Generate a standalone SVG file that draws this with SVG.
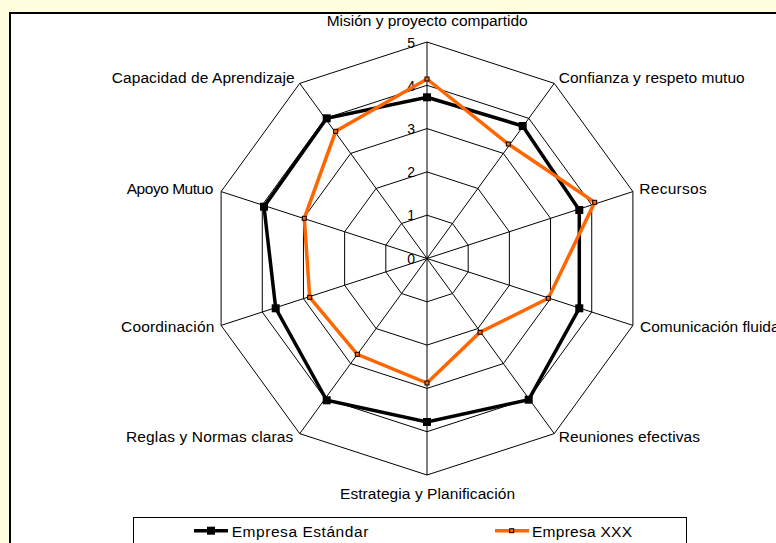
<svg xmlns="http://www.w3.org/2000/svg" width="776" height="543" viewBox="0 0 776 543">
  <style>
    .grid { fill: none; stroke: #000; stroke-width: 1; }
    .lbl { font-family: "Liberation Sans", Arial, sans-serif; font-size: 15.5px; fill: #000; }
    .tick { font-family: "Liberation Sans", Arial, sans-serif; font-size: 14px; fill: #000; text-anchor: end; }
    .sBlack { fill: none; stroke: #000; stroke-width: 3.5; stroke-linejoin: miter; }
    .sOrange { fill: none; stroke: #FF6600; stroke-width: 3.5; stroke-linejoin: miter; }
    .mBlack { fill: #000; }
    .mOrange { fill: #FF6600; stroke: #000; stroke-width: 1; }
  </style>
  <rect x="0" y="0" width="776" height="543" fill="#FFFFDF"/>
  <rect x="10" y="13" width="800" height="560" fill="#FFFFFF" stroke="#000" stroke-width="2"/>

  <g id="grid">
    <polygon class="grid" points="427,42 554.26,83.35 632.9,191.6 632.9,325.4 554.26,433.65 427,475 299.74,433.65 221.1,325.4 221.1,191.6 299.74,83.35"/>
    <polygon class="grid" points="427,85.3 528.8,118.38 591.72,204.98 591.72,312.02 528.8,398.62 427,431.7 325.2,398.62 262.28,312.02 262.28,204.98 325.2,118.38"/>
    <polygon class="grid" points="427,128.6 503.35,153.41 550.54,218.36 550.54,298.64 503.35,363.59 427,388.4 350.65,363.59 303.46,298.64 303.46,218.36 350.65,153.41"/>
    <polygon class="grid" points="427,171.9 477.9,188.44 509.36,231.74 509.36,285.26 477.9,328.56 427,345.1 376.1,328.56 344.64,285.26 344.64,231.74 376.1,188.44"/>
    <polygon class="grid" points="427,215.2 452.45,223.47 468.18,245.12 468.18,271.88 452.45,293.53 427,301.8 401.55,293.53 385.82,271.88 385.82,245.12 401.55,223.47"/>
    <path class="grid" d="M427,258.5 L427,42 M427,258.5 L554.26,83.35 M427,258.5 L632.9,191.6 M427,258.5 L632.9,325.4 M427,258.5 L554.26,433.65 M427,258.5 L427,475 M427,258.5 L299.74,433.65 M427,258.5 L221.1,325.4 M427,258.5 L221.1,191.6 M427,258.5 L299.74,83.35"/>
  </g>

  <g id="ticks">
    <text class="tick" x="415" y="47.5">5</text>
    <text class="tick" x="415" y="90.5">4</text>
    <text class="tick" x="415" y="133.5">3</text>
    <text class="tick" x="415" y="176.5">2</text>
    <text class="tick" x="415" y="220">1</text>
    <text class="tick" x="415" y="263.5">0</text>
  </g>

  <g id="axis-labels">
    <text class="lbl" x="326.7" y="26" textLength="201" lengthAdjust="spacing">Misión y proyecto compartido</text>
    <text class="lbl" x="558.7" y="83" textLength="186" lengthAdjust="spacing">Confianza y respeto mutuo</text>
    <text class="lbl" x="111.7" y="83" textLength="183" lengthAdjust="spacing">Capacidad de Aprendizaje</text>
    <text class="lbl" x="639.3" y="194" textLength="67.4" lengthAdjust="spacing">Recursos</text>
    <text class="lbl" x="126.7" y="194" textLength="86.7" lengthAdjust="spacing">Apoyo Mutuo</text>
    <text class="lbl" x="640" y="331.5">Comunicación fluida</text>
    <text class="lbl" x="121" y="331.5" textLength="93.3" lengthAdjust="spacing">Coordinación</text>
    <text class="lbl" x="558.7" y="442" textLength="141.3" lengthAdjust="spacing">Reuniones efectivas</text>
    <text class="lbl" x="126" y="442" textLength="167.3" lengthAdjust="spacing">Reglas y Normas claras</text>
    <text class="lbl" x="340" y="499" textLength="175" lengthAdjust="spacing">Estrategia y Planificación</text>
  </g>

  <g id="series-estandar">
    <polygon class="sBlack" points="427,97.3 522.7,126 579.3,210 579.3,308.3 528.7,399.7 427,422 326.7,400.3 275.7,308.3 264,206.7 326.7,118.3"/>
    <g class="mBlack">
      <rect x="423" y="93.3" width="8" height="8"/>
      <rect x="518.7" y="122" width="8" height="8"/>
      <rect x="575.3" y="206" width="8" height="8"/>
      <rect x="575.3" y="304.3" width="8" height="8"/>
      <rect x="524.7" y="395.7" width="8" height="8"/>
      <rect x="423" y="418" width="8" height="8"/>
      <rect x="322.7" y="396.3" width="8" height="8"/>
      <rect x="271.7" y="304.3" width="8" height="8"/>
      <rect x="260" y="202.7" width="8" height="8"/>
      <rect x="322.7" y="114.3" width="8" height="8"/>
    </g>
  </g>

  <g id="series-xxx">
    <polygon class="sOrange" points="427,79 508.3,144 594.7,202.3 548.3,298.3 480,332.3 427,383 357.3,354.3 309.7,297.3 304.3,218.3 335.7,131.3"/>
    <g class="mOrange">
      <rect x="425" y="77" width="4" height="4"/>
      <rect x="506.3" y="142" width="4" height="4"/>
      <rect x="592.7" y="200.3" width="4" height="4"/>
      <rect x="546.3" y="296.3" width="4" height="4"/>
      <rect x="478" y="330.3" width="4" height="4"/>
      <rect x="425" y="381" width="4" height="4"/>
      <rect x="355.3" y="352.3" width="4" height="4"/>
      <rect x="307.7" y="295.3" width="4" height="4"/>
      <rect x="302.3" y="216.3" width="4" height="4"/>
      <rect x="333.7" y="129.3" width="4" height="4"/>
    </g>
  </g>

  <g id="legend">
    <rect x="133.5" y="517.5" width="553" height="40" fill="#FFFFFF" stroke="#000" stroke-width="1"/>
    <line x1="194" y1="530.7" x2="228" y2="530.7" stroke="#000" stroke-width="3.5"/>
    <rect x="207" y="526.7" width="8" height="8" fill="#000"/>
    <text class="lbl" x="231.7" y="536.5" textLength="136.6" lengthAdjust="spacing">Empresa Estándar</text>
    <line x1="495" y1="530.7" x2="529" y2="530.7" stroke="#FF6600" stroke-width="3.5"/>
    <rect x="509.7" y="528.7" width="4" height="4" fill="#FF6600" stroke="#000" stroke-width="1"/>
    <text class="lbl" x="532" y="536.5" textLength="100" lengthAdjust="spacing">Empresa XXX</text>
  </g>
</svg>
